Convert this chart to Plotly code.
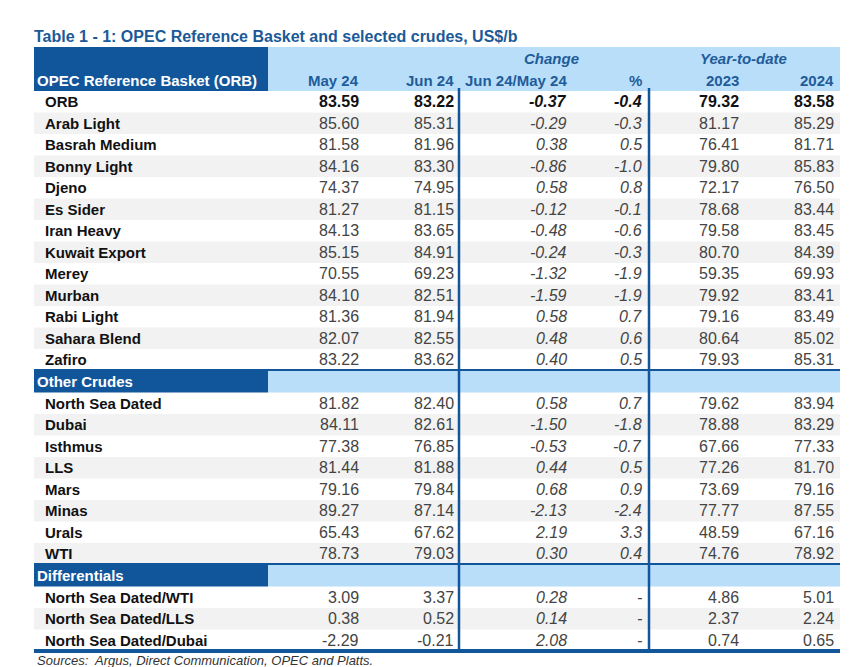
import plotly.graph_objects as go

TITLE = "Table 1 - 1: OPEC Reference Basket and selected crudes, US$/b"
SOURCE = "Sources:  Argus, Direct Communication, OPEC and Platts."
HEAD_LABEL = "OPEC Reference Basket (ORB)"
group_headers = ["Change", "Year-to-date"]
col_headers = ["May 24", "Jun 24", "Jun 24/May 24", "%", "2023", "2024"]

sec_titles = ["", "Other Crudes", "Differentials"]

orb_names = ["ORB", "Arab Light", "Basrah Medium", "Bonny Light", "Djeno", "Es Sider",
             "Iran Heavy", "Kuwait Export", "Merey", "Murban", "Rabi Light",
             "Sahara Blend", "Zafiro"]
orb_may = [83.59, 85.60, 81.58, 84.16, 74.37, 81.27, 84.13, 85.15, 70.55, 84.10, 81.36, 82.07, 83.22]
orb_jun = [83.22, 85.31, 81.96, 83.30, 74.95, 81.15, 83.65, 84.91, 69.23, 82.51, 81.94, 82.55, 83.62]
orb_chg = [-0.37, -0.29, 0.38, -0.86, 0.58, -0.12, -0.48, -0.24, -1.32, -1.59, 0.58, 0.48, 0.40]
orb_pct = [-0.4, -0.3, 0.5, -1.0, 0.8, -0.1, -0.6, -0.3, -1.9, -1.9, 0.7, 0.6, 0.5]
orb_y23 = [79.32, 81.17, 76.41, 79.80, 72.17, 78.68, 79.58, 80.70, 59.35, 79.92, 79.16, 80.64, 79.93]
orb_y24 = [83.58, 85.29, 81.71, 85.83, 76.50, 83.44, 83.45, 84.39, 69.93, 83.41, 83.49, 85.02, 85.31]

oth_names = ["North Sea Dated", "Dubai", "Isthmus", "LLS", "Mars", "Minas", "Urals", "WTI"]
oth_may = [81.82, 84.11, 77.38, 81.44, 79.16, 89.27, 65.43, 78.73]
oth_jun = [82.40, 82.61, 76.85, 81.88, 79.84, 87.14, 67.62, 79.03]
oth_chg = [0.58, -1.50, -0.53, 0.44, 0.68, -2.13, 2.19, 0.30]
oth_pct = [0.7, -1.8, -0.7, 0.5, 0.9, -2.4, 3.3, 0.4]
oth_y23 = [79.62, 78.88, 67.66, 77.26, 73.69, 77.77, 48.59, 74.76]
oth_y24 = [83.94, 83.29, 77.33, 81.70, 79.16, 87.55, 67.16, 78.92]

dif_names = ["North Sea Dated/WTI", "North Sea Dated/LLS", "North Sea Dated/Dubai"]
dif_may = [3.09, 0.38, -2.29]
dif_jun = [3.37, 0.52, -0.21]
dif_chg = [0.28, 0.14, 2.08]
dif_pct = [None, None, None]
dif_y23 = [4.86, 2.37, 0.74]
dif_y24 = [5.01, 2.24, 0.65]

sections = [
    (orb_names, orb_may, orb_jun, orb_chg, orb_pct, orb_y23, orb_y24),
    (oth_names, oth_may, oth_jun, oth_chg, oth_pct, oth_y23, oth_y24),
    (dif_names, dif_may, dif_jun, dif_chg, dif_pct, dif_y23, dif_y24),
]

# ---- layout / style constants ----
W, H = 860, 667
PAGE_OFF = 8  # default body margin of the html page
X0, X1 = 34, 840
XSPLIT = 268
HEAD_TOP, HEAD_BOT = 47, 91
ROW_H, SEC_H = 21.5, 22
COL_RIGHT = [361, 456, 569, 644, 741, 836]
VLINES = [459, 649]
DARK = "#11569B"
LIGHT = "#B9DEF9"
HEADTXT = "#1F5C99"
GREY = "#F2F2F2"
FONT = "Liberation Sans, Arial, sans-serif"
FS = 15
FS_NUM = 16

shapes = []
ann = []

def rect(x0, y0, x1, y1, color):
    shapes.append(dict(type="rect", xref="x", yref="y", x0=x0, x1=x1, y0=y0, y1=y1,
                       fillcolor=color, line=dict(width=0), layer="below"))

def hline(y, w, color=DARK):
    shapes.append(dict(type="line", xref="x", yref="y", x0=X0, x1=X1, y0=y, y1=y,
                       line=dict(color=color, width=w)))

def text(x, y, s, anchor="left", color="#222", size=FS):
    ann.append(dict(x=x, y=y, xref="x", yref="y", text=s, showarrow=False,
                    xanchor=anchor, yanchor="middle",
                    font=dict(family=FONT, size=size, color=color)))

# title
text(X0 - 2, 36.5, "<b>" + TITLE + "</b>", color="#1B5A98", size=16)

# header
rect(X0, HEAD_TOP, XSPLIT, HEAD_BOT, DARK)
rect(XSPLIT, HEAD_TOP, X1, HEAD_BOT, LIGHT)
text(X0 + 1, 80, "<b>" + HEAD_LABEL + "</b>", color="white")
text((COL_RIGHT[1] + COL_RIGHT[3]) / 2 + 1, 58, "<b><i>" + group_headers[0] + "</i></b>", anchor="center", color=HEADTXT)
text((COL_RIGHT[3] + X1) / 2 + 1, 58, "<b><i>" + group_headers[1] + "</i></b>", anchor="center", color=HEADTXT)
for xr, h in zip(COL_RIGHT, col_headers):
    text(xr, 80, "<b>" + h + "</b>", anchor="right", color=HEADTXT)

y = HEAD_BOT
for si, sec in enumerate(sections):
    names, may, jun, chg, pct, y23, y24 = sec
    if sec_titles[si]:
        rect(X0, y, XSPLIT, y + SEC_H, DARK)
        rect(XSPLIT, y, X1, y + SEC_H, LIGHT)
        hline(y - 0.5, 1.8)
        text(X0 + 1, y + SEC_H / 2, "<b>" + sec_titles[si] + "</b>", color="white")
        y += SEC_H
    for i, nm in enumerate(names):
        if i % 2 == 1:
            rect(X0, y, X1, y + ROW_H, GREY)
        yc = y + ROW_H / 2
        bold = (si == 0 and i == 0)
        b0, b1 = ("<b>", "</b>") if bold else ("", "")
        numc = "#111" if bold else "#444"
        text(43, yc, "<b>" + nm + "</b>", color="#111")
        vals = [f"{may[i]:.2f}", f"{jun[i]:.2f}", f"{chg[i]:.2f}",
                "-" if pct[i] is None else f"{pct[i]:.1f}",
                f"{y23[i]:.2f}", f"{y24[i]:.2f}"]
        for ci, (xr, v) in enumerate(zip(COL_RIGHT, vals)):
            s = b0 + v + b1
            if ci in (2, 3):
                s = "<i>" + s + "</i>"
            text(xr, yc, s, anchor="right", color=numc, size=FS_NUM)
        y += ROW_H

# bottom thick line and vertical separators
for xv in VLINES:
    shapes.append(dict(type="line", xref="x", yref="y", x0=xv, x1=xv, y0=HEAD_BOT - 3, y1=y,
                       line=dict(color=DARK, width=2.5)))
hline(y, 4)

text(X0 + 1, y + 9.5, "<i>" + SOURCE + "</i>", color="#333", size=13)

fig = go.Figure()
fig.update_layout(
    width=W - PAGE_OFF, height=H - PAGE_OFF, margin=dict(l=0, r=0, t=0, b=0),
    paper_bgcolor="white", plot_bgcolor="white",
    xaxis=dict(range=[PAGE_OFF, W], visible=False, fixedrange=True),
    yaxis=dict(range=[H, PAGE_OFF], visible=False, fixedrange=True),
    shapes=shapes, annotations=ann, showlegend=False,
)
fig.write_html("out.html")
